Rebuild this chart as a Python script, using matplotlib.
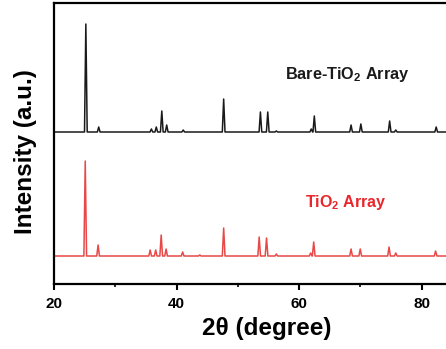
import matplotlib
matplotlib.use("Agg")
import matplotlib.pyplot as plt

plt.rcParams['font.family'] = ['Liberation Sans', 'DejaVu Sans']
plt.rcParams['mathtext.fontset'] = 'custom'
plt.rcParams['mathtext.rm'] = 'Liberation Sans:bold'
plt.rcParams['mathtext.bf'] = 'Liberation Sans:bold'

# peak positions (2theta, degree) and relative intensities
bare_pos = [25.2, 27.3, 35.9, 36.7, 37.6, 38.4, 41.1, 47.7, 53.7, 54.9, 56.3,
            62.0, 62.5, 68.5, 70.1, 74.8, 75.8, 82.4]
bare_int = [108, 5, 3, 5, 21, 7, 2, 33, 20, 20, 1, 3, 16, 7, 8, 11, 2, 5]

tio2_pos = [25.1, 27.2, 35.7, 36.6, 37.5, 38.3, 41.0, 43.8, 47.7, 53.5, 54.7,
            56.3, 61.9, 62.4, 68.5, 70.0, 74.7, 75.8, 82.3]
tio2_int = [95, 11, 6, 6, 21, 7, 4, 1, 28, 19, 18, 2, 3, 14, 7, 7, 9, 3, 5]

bare_offset = 124
x_start, x_end = 19.5, 84.5
half_width = 0.22


def pattern(pos, inten, offset):
    xs = [x_start]
    ys = [offset]
    for p, h in zip(pos, inten):
        xs += [p - half_width, p, p + half_width]
        ys += [offset, offset + h, offset]
    xs.append(x_end)
    ys.append(offset)
    return xs, ys


fig = plt.figure(figsize=(4.46, 3.49), dpi=100)
ax = fig.add_axes([54 / 446, 65 / 349, 1 - 54 / 446, 281 / 349])

x, y = pattern(bare_pos, bare_int, bare_offset)
ax.plot(x, y, color='#1a1a1a', lw=1.1)
x, y = pattern(tio2_pos, tio2_int, 0)
ax.plot(x, y, color='#e84848', lw=1.1)

# labels placed in pixel coords (from the top of the image)
ax.text(347, 349 - 75, r'Bare-TiO$_2$ Array', transform=None, fontsize=11.7,
        fontweight='bold', color='#1a1a1a', ha='center', va='center')
ax.text(346, 349 - 203, r'TiO$_2$ Array', transform=None, fontsize=11.5,
        fontweight='bold', color='#e8262b', ha='center', va='center')

ax.set_xlim(20, 84)
ax.set_ylim(-28, 253)
ax.set_xticks([20, 40, 60, 80])
ax.set_xticks([30, 50, 70], minor=True)
ax.set_yticks([])
ax.tick_params(axis='x', which='major', direction='out', length=4, width=1.5,
               labelsize=11, pad=5)
ax.tick_params(axis='x', which='minor', direction='out', length=2.5, width=1.2)
for lab in ax.get_xticklabels():
    lab.set_fontweight('bold')
for side in ['left', 'bottom', 'top']:
    ax.spines[side].set_linewidth(1.6)
ax.spines['right'].set_visible(False)

ax.set_xlabel(u'2\u03b8 (degree)', fontsize=17.5, fontweight='bold')
ax.set_ylabel('Intensity (a.u.)', fontsize=17.5, fontweight='bold', labelpad=12)
ax.xaxis.set_label_coords(0.543, -0.118)
ax.yaxis.label.set_y(0.47)

fig.savefig('out.png', dpi=100)
